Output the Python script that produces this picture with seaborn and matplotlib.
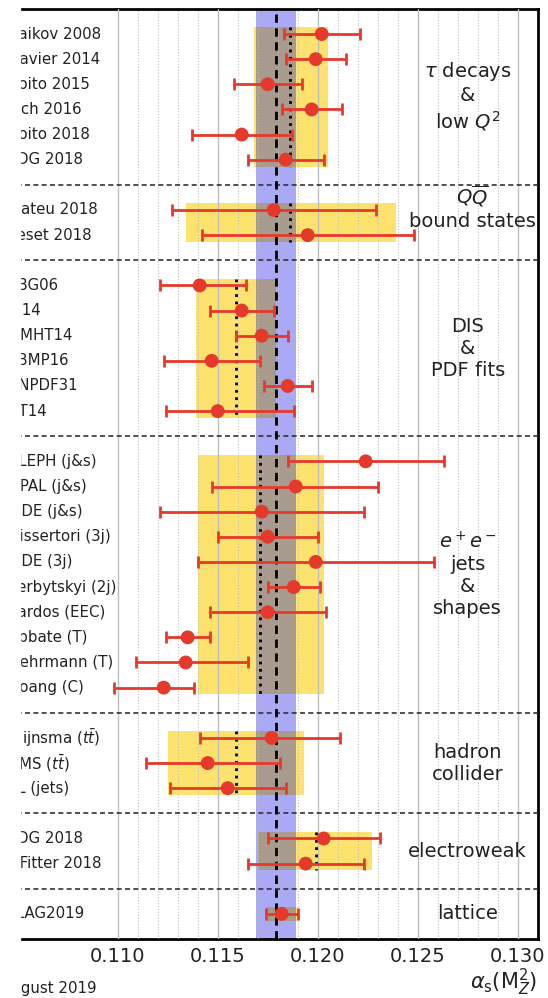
import matplotlib
matplotlib.use('Agg')
import matplotlib.pyplot as plt
from matplotlib.patches import Rectangle
import numpy as np
import pandas as pd
import seaborn as sns

# measurements, top to bottom
labels = ['Baikov 2008', 'Davier 2014', 'Boito 2015', 'Pich 2016', 'Boito 2018', 'PDG 2018',
          'Mateu 2018', 'Peset 2018',
          'BBG06', 'JR14', 'MMHT14', 'ABMP16', 'NNPDF31', 'CT14',
          'ALEPH (j&s)', 'OPAL (j&s)', 'JADE (j&s)', 'Dissertori (3j)', 'JADE (3j)',
          'Verbytskyi (2j)', 'Kardos (EEC)', 'Abbate (T)', 'Gehrmann (T)', 'Hoang (C)',
          r'Klijnsma ($t\bar{t}$)', r'CMS ($t\bar{t}$)', 'TL (jets)',
          'PDG 2018', 'GFitter 2018',
          'FLAG2019']
values = [0.1202, 0.1199, 0.1175, 0.1197, 0.1162, 0.1184,
          0.1178, 0.1195,
          0.1141, 0.1162, 0.1172, 0.1147, 0.1185, 0.1150,
          0.1224, 0.1189, 0.1172, 0.1175, 0.1199, 0.1188, 0.1175, 0.1135, 0.1134, 0.1123,
          0.1177, 0.1145, 0.1155,
          0.1203, 0.1194,
          0.1182]
err_low = [0.1183, 0.1184, 0.1158, 0.1182, 0.1137, 0.1165,
           0.1127, 0.1142,
           0.1121, 0.1146, 0.1159, 0.1123, 0.1173, 0.1124,
           0.1185, 0.1147, 0.1121, 0.1150, 0.1140, 0.1175, 0.1146, 0.1124, 0.1109, 0.1098,
           0.1141, 0.1114, 0.1126,
           0.1175, 0.1165,
           0.1174]
err_high = [0.1221, 0.1214, 0.1192, 0.1212, 0.1187, 0.1203,
            0.1229, 0.1248,
            0.1164, 0.1178, 0.1185, 0.1171, 0.1197, 0.1188,
            0.1263, 0.1230, 0.1223, 0.1200, 0.1258, 0.1201, 0.1204, 0.1146, 0.1165, 0.1138,
            0.1211, 0.1181, 0.1184,
            0.1231, 0.1223,
            0.1190]

# groups
group_names = ['$\\tau$ decays\n&\nlow $Q^2$', '$Q\\overline{Q}$\nbound states',
               'DIS\n&\nPDF fits', '$e^+e^-$\njets\n&\nshapes', 'hadron\ncollider',
               'electroweak', 'lattice']
group_sizes = [6, 2, 6, 10, 3, 2, 1]
box_low = [0.1168, 0.1134, 0.1139, 0.1140, 0.1125, 0.1170, 0.1174]
box_high = [0.1205, 0.1239, 0.1179, 0.1203, 0.1193, 0.1227, 0.1190]
box_mid = [0.1186, 0.1186, 0.1159, 0.1171, 0.1159, 0.1199, 0.1182]

world_avg = 0.1179
world_err = 0.0010

xticks = [0.110, 0.115, 0.120, 0.125, 0.130]

# row layout: one empty row around each separator
rows = []
group_rows = []
seps = []
r = 1
for n in group_sizes:
    g = list(range(r, r + n))
    rows += g
    group_rows.append(g)
    r += n
    seps.append(r)
    r += 1
seps = seps[:-1]
y_max = r - 1

df = pd.DataFrame({'label': labels, 'value': values, 'low': err_low,
                   'high': err_high, 'row': rows})

red = '#e53a2b'
yellow = '#fde36e'
grey = '#a89a8c'
blue = '#a9a9f5'

fig = plt.figure(figsize=(5.48, 9.98), dpi=100)
sns.set_style('white')
plt.rcParams['font.family'] = ['DejaVu Sans']
ax = fig.add_axes([0.0, 0.0591, 537.7 / 548, 0.932])

x_left = 0.110 - 117.7 / 20000
ax.set_xlim(x_left, 0.131)
ax.set_ylim(y_max, 0)

ax.axvspan(world_avg - world_err, world_avg + world_err, color=blue, lw=0, zorder=0.5)

h = 0.27
for g, lo, hi, mid, name in zip(group_rows, box_low, box_high, box_mid, group_names):
    top, bot = g[0] - h, g[-1] + h
    ax.add_patch(Rectangle((lo, top), hi - lo, bot - top, color=yellow, lw=0, zorder=0.8))
    glo = max(lo, world_avg - world_err)
    ghi = min(hi, world_avg + world_err)
    if ghi > glo:
        ax.add_patch(Rectangle((glo, top), ghi - glo, bot - top, color=grey, lw=0, zorder=0.9))
    ax.plot([mid, mid], [top, bot], color='black', ls=':', lw=2, zorder=2.7)
    yc = (g[0] + g[-1]) / 2
    xc = 0.1275
    if 'bound' in name:
        yc -= 0.6
        xc = 0.12775
    ax.text(xc, yc, name, ha='center', va='center', fontsize=14,
            multialignment='center', color='#222222', zorder=6)

for s in seps:
    ax.axhline(s, color='#333333', ls='--', lw=1.2, dashes=(3, 2), zorder=2.6)

ax.axvline(world_avg, color='black', ls='--', lw=2, dashes=(3, 2), zorder=2.8)

ax.errorbar(df['value'], df['row'],
            xerr=[df['value'] - df['low'], df['high'] - df['value']],
            fmt='none', ecolor=red, elinewidth=2, capsize=4.5, capthick=2, zorder=3)
sns.scatterplot(data=df, x='value', y='row', ax=ax, color=red, s=100,
                edgecolor='none', linewidth=0, zorder=4, legend=False)

for lab, rr in zip(labels, rows):
    ax.text(x_left + 7.8 / 20000, rr, lab, ha='left', va='center', fontsize=10.8,
            color='#222222', zorder=6)

# grid
ax.set_xticks(xticks)
ax.set_xticks(np.arange(0.110, 0.1315, 0.001), minor=True)
ax.set_xticklabels(['%.3f' % t for t in xticks], fontsize=14, color='#222222')
ax.set_yticks([])
ax.grid(True, which='major', axis='x', color='#bdbdbd', lw=1, ls='-')
ax.grid(True, which='minor', axis='x', color='#bdbdbd', lw=0.8, ls=':')
ax.set_axisbelow(False)
ax.tick_params(axis='x', which='major', direction='in', length=7, width=2, pad=6, top=False)
ax.tick_params(axis='x', which='minor', direction='in', length=4, width=1.2, top=False)
for sp in ax.spines.values():
    sp.set_linewidth(2)
    sp.set_color('black')

ax.set_xlabel(r'$\alpha_\mathrm{s}(\mathrm{M}_Z^2)$', loc='right', fontsize=15, labelpad=0)
ax.xaxis.label.set_color('#222222')

fig.text(1 / 548, 1 - 989 / 998, 'August 2019', fontsize=10.8, ha='left', va='center',
         color='#222222')

# the left margin is cut off in the reference
fig.patches.append(Rectangle((0, 0), 19.5 / 548, 1, transform=fig.transFigure,
                             color='white', zorder=20))

fig.savefig('out.png', dpi=100)
